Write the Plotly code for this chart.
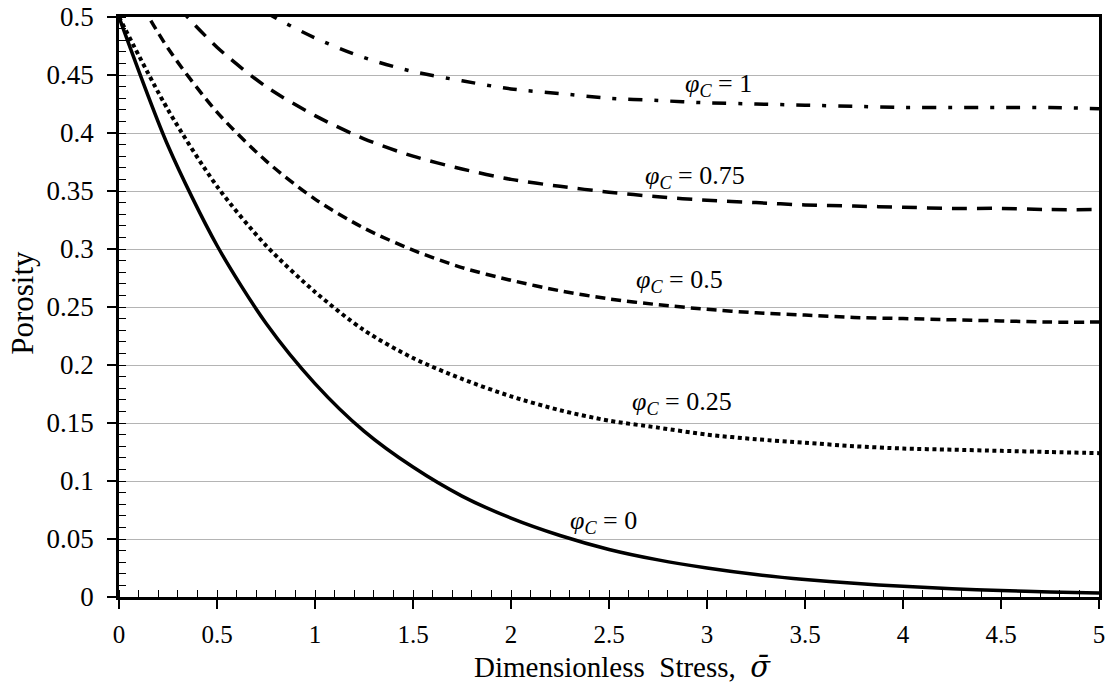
import plotly.graph_objects as go

# Dimensionless stress values (x) and porosity curves for each critical porosity
sigma = [0, 0.25, 0.5, 0.75, 1, 1.25, 1.5, 1.75, 2, 2.25, 2.5,
         2.75, 3, 3.25, 3.5, 3.75, 4, 4.25, 4.5, 4.75, 5]

phi_c0 = [0.5, 0.389, 0.303, 0.236, 0.184, 0.143, 0.112, 0.087, 0.068, 0.053, 0.041,
          0.032, 0.025, 0.0194, 0.0151, 0.0118, 0.0092, 0.0071, 0.0056, 0.0043, 0.0034]
phi_c025 = [0.5, 0.420, 0.354, 0.303, 0.263, 0.230, 0.206, 0.188, 0.173, 0.161, 0.152,
            0.146, 0.140, 0.136, 0.133, 0.130, 0.128, 0.127, 0.126, 0.125, 0.124]
phi_c05 = [0.545, 0.473, 0.418, 0.376, 0.343, 0.318, 0.299, 0.284, 0.273, 0.264, 0.257,
           0.252, 0.248, 0.245, 0.243, 0.241, 0.240, 0.239, 0.238, 0.237, 0.237]
phi_c075 = [0.578, 0.519, 0.474, 0.440, 0.415, 0.395, 0.380, 0.369, 0.360, 0.354, 0.349,
            0.345, 0.342, 0.340, 0.338, 0.337, 0.336, 0.335, 0.335, 0.334, 0.334]
phi_c1 = [0.633, 0.576, 0.534, 0.504, 0.482, 0.465, 0.453, 0.445, 0.438, 0.434, 0.430,
          0.428, 0.426, 0.425, 0.424, 0.423, 0.422, 0.422, 0.422, 0.422, 0.421]

curve_labels = ["0", "0.25", "0.5", "0.75", "1"]

# label anchor points (sigma, porosity)
label_x = [2.47, 2.87, 2.86, 2.94, 3.06]
label_y = [0.065, 0.167, 0.272, 0.362, 0.441]

series = [phi_c0, phi_c025, phi_c05, phi_c075, phi_c1]
dashes = ["solid", "4px,3.5px", "10px,6px", "15px,10px", "14px,12px,4px,12px"]
widths = [3.5, 4, 3.5, 3.5, 3.5]

serif = "Liberation Serif"

fig = go.Figure()
for vals, lab, dash, w in zip(series, curve_labels, dashes, widths):
    fig.add_trace(go.Scatter(
        x=sigma, y=vals, mode="lines", name=f"φc = {lab}",
        line=dict(color="black", width=w, dash=dash, shape="spline", smoothing=0.8),
        showlegend=False, hoverinfo="skip",
    ))

for lab, lx, ly in zip(curve_labels, label_x, label_y):
    fig.add_annotation(
        x=lx, y=ly, xref="x", yref="y", showarrow=False,
        text=f"<i>φ</i><sub><i>C</i></sub> = {lab}",
        font=dict(family=serif, size=26, color="black"),
        xanchor="center", yanchor="middle",
    )

# axis titles
fig.add_annotation(
    x=0.514, y=-0.12, xref="paper", yref="paper", showarrow=False,
    text="Dimensionless\u00a0 Stress,\u00a0 "
         "<span style=\"font-family:'DejaVu Serif'\"><i>σ̄</i></span>",
    font=dict(family=serif, size=29, color="black"),
    xanchor="center", yanchor="middle",
)
fig.add_annotation(
    x=-0.0985, y=0.508, xref="paper", yref="paper", showarrow=False,
    text="Porosity", textangle=-90,
    font=dict(family=serif, size=31, color="black"),
    xanchor="center", yanchor="middle",
)

fig.update_layout(
    width=1112, height=692,
    margin=dict(l=119, r=13, t=17, b=95),
    paper_bgcolor="white", plot_bgcolor="white",
    font=dict(family=serif, color="black"),
    xaxis=dict(
        range=[0, 5], dtick=0.5, tick0=0, automargin=False,
        showgrid=False, zeroline=False,
        showline=True, linecolor="black", linewidth=2.5, mirror=True,
        ticks="outside", ticklen=9, tickwidth=1.5, tickcolor="black",
        minor=dict(dtick=0.1, ticks="inside", ticklen=7, tickwidth=1, tickcolor="black", showgrid=False),
        tickfont=dict(family=serif, size=25), ticklabelstandoff=4,
    ),
    yaxis=dict(
        range=[0, 0.5], dtick=0.05, tick0=0, automargin=False,
        showgrid=True, gridcolor="#b4b4b4", gridwidth=1.4,
        zeroline=False,
        showline=True, linecolor="black", linewidth=2.5, mirror=True,
        ticks="outside", ticklen=9, tickwidth=1.5, tickcolor="black",
        minor=dict(dtick=0.01, ticks="inside", ticklen=7, tickwidth=1, tickcolor="black", showgrid=False),
        tickfont=dict(family=serif, size=27), ticklabelstandoff=8,
        tickformat="~g",
    ),
    # companion axes carrying the inward half of the major ticks
    xaxis2=dict(
        overlaying="x", anchor="y", side="bottom", range=[0, 5], dtick=0.5, tick0=0,
        automargin=False,
        showgrid=False, zeroline=False, showline=False, showticklabels=False,
        ticks="inside", ticklen=8, tickwidth=1.5, tickcolor="black",
    ),
    yaxis2=dict(
        overlaying="y", anchor="x", side="left", range=[0, 0.5], dtick=0.05, tick0=0,
        automargin=False,
        showgrid=False, zeroline=False, showline=False, showticklabels=False,
        ticks="inside", ticklen=8, tickwidth=1.5, tickcolor="black",
    ),
)

fig.write_html("out.html")
